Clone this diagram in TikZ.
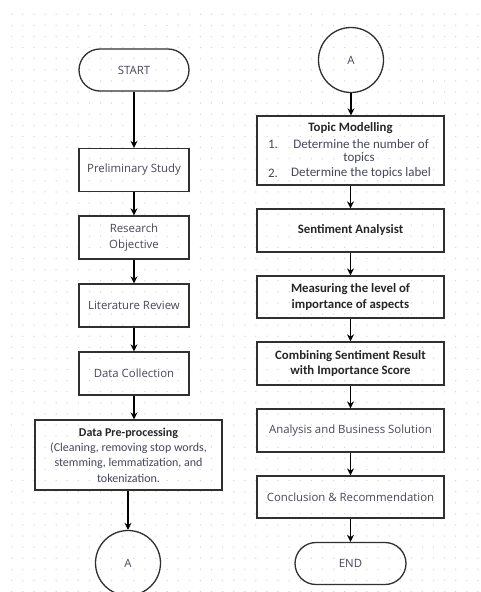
\documentclass[tikz,border=0pt]{standalone}
\usepackage{fontspec}
\usetikzlibrary{arrows.meta}
\newfontfamily\nfont{Open Sans}
\newfontfamily\cfont{Carlito}
\definecolor{txtgray}{HTML}{46465A}
\definecolor{txtdark}{HTML}{262626}
\definecolor{dotc}{HTML}{D2D6DE}
\definecolor{linec}{HTML}{303030}
\tikzset{
  box/.style={draw=linec, line width=1.3pt, minimum width=#1, inner sep=0pt, align=center},
  smallbox/.style={box=110pt, minimum height=43pt, font=\nfont\fontsize{11.4}{16}\selectfont, text=txtgray},
  bigbox/.style={box=187pt, minimum height=43pt},
  boldtxt/.style={font=\cfont\bfseries\fontsize{12.8}{16}\selectfont, text=txtdark},
  normtxt/.style={font=\nfont\fontsize{11.4}{16}\selectfont, text=txtgray},
  terminal/.style={draw=linec, line width=1.3pt, rounded corners=21pt, minimum width=#1, minimum height=42pt, inner sep=0pt, font=\nfont\fontsize{11.4}{16}\selectfont, text=txtgray},
  conn/.style={draw=linec, line width=1.3pt, circle, minimum size=65pt, inner sep=0pt, font=\nfont\fontsize{11.4}{16}\selectfont, text=txtgray},
  flow/.style={draw=black, line width=1.9pt, -{Stealth[length=7pt,width=7pt]}},
  lbl/.style={inner sep=0pt, font=\cfont\fontsize{13}{15}\selectfont, text=txtgray}
}
\begin{document}
\begin{tikzpicture}[x=1pt,y=-1pt]
\useasboundingbox (0,0) rectangle (480,592);
% dot grid
\foreach \i in {0,...,42}{
  \foreach \j in {0,...,52}{
    \fill[dotc] (11.7+11.1*\i, 14.3+11.1*\j) circle (0.75);
  }
}
% left column
\node[terminal=110pt] (start) at (134,70) {START};
\node[smallbox] (pre) at (134,170) {Preliminary Study};
\node[smallbox] (obj) at (134,237.5) {Research\\Objective};
\node[smallbox] (lit) at (134,305.5) {Literature Review};
\node[smallbox] (col) at (134,373.5) {Data Collection};
\node[box=187pt, minimum height=70pt, font=\cfont\fontsize{12}{15.3}\selectfont, text=txtgray] (prep) at (128.5,455)
  {{\bfseries\color{txtdark}Data Pre-processing}\\(Cleaning, removing stop words,\\stemming, lemmatization, and\\tokenization.};
\node[conn] (a1) at (128,563) {A};
% right column
\node[conn] (a2) at (351,60) {A};
\node[bigbox, minimum height=69pt] (topic) at (350.5,150.5) {};
\node[boldtxt, inner sep=0pt] (tt) at (350.5,128) {Topic Modelling};
\node[lbl] (n1) at (273,144) {1.};
\node[lbl] (d1) at (361,144) {Determine the number of};
\node[lbl] (d1b) at (359,158.5) {topics};
\node[lbl] (n2) at (273,173) {2.};
\node[lbl] (d2) at (361,173) {Determine the topics label};
\node[bigbox, boldtxt] (sent) at (350.5,230.5) {Sentiment Analysist};
\node[bigbox, boldtxt, minimum height=42pt] (meas) at (350.5,297) {Measuring the level of\\importance of aspects};
\node[bigbox, boldtxt] (comb) at (350.5,363.5) {Combining Sentiment Result\\with Importance Score};
\node[bigbox, normtxt] (anal) at (350.5,430.5) {Analysis and Business Solution};
\node[bigbox, normtxt, minimum height=42pt] (conc) at (350.5,497) {Conclusion \& Recommendation};
\node[terminal=111pt] (end) at (350.5,563.5) {END};
% arrows
\draw[flow] (start) -- (pre);
\draw[flow] (pre) -- (obj);
\draw[flow] (obj) -- (lit);
\draw[flow] (lit) -- (col);
\draw[flow] (col.south) -- (col.south |- prep.north);
\draw[flow] (prep.south -| a1) -- (a1.north);
\draw[flow] (a2) -- (a2 |- topic.north);
\draw[flow] (topic) -- (sent);
\draw[flow] (sent) -- (meas);
\draw[flow] (meas) -- (comb);
\draw[flow] (comb) -- (anal);
\draw[flow] (anal) -- (conc);
\draw[flow] (conc) -- (end);
\end{tikzpicture}
\end{document}
